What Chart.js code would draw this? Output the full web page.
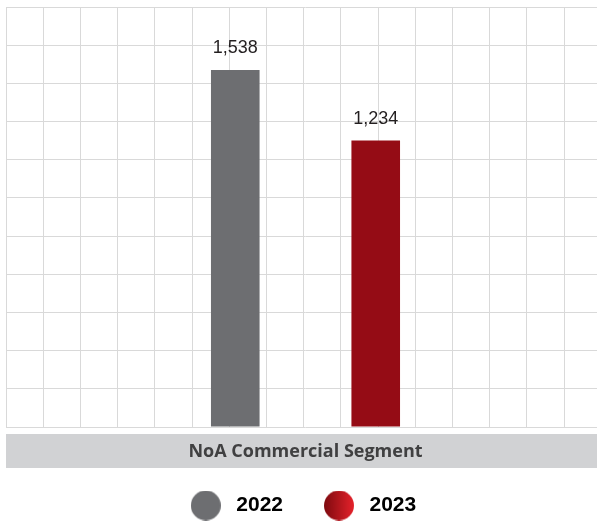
<!DOCTYPE html>
<html>
<head>
<meta charset="utf-8">
<script src="https://cdn.jsdelivr.net/npm/chart.js@4/dist/chart.umd.min.js"></script>
<style>
  html, body { margin: 0; padding: 0; background: #fff; overflow: hidden; }
  #wrap { position: relative; width: 605px; height: 526px; }
</style>
</head>
<body>
<div id="wrap"><canvas id="myChart"></canvas></div>
<script>
const categories = ['NoA Commercial Segment'];
const seriesLabels = ['2022', '2023'];
const values2022 = [1538];
const values2023 = [1234];
const seriesColors = ['#6d6e71', '#950c15'];

// pastilles de la légende (le rouge est en dégradé)
function makeDot(fill) {
    const c = document.createElement('canvas');
    c.width = 30;
    c.height = 30;
    const g = c.getContext('2d');
    if (fill === 'red') {
        const grad = g.createLinearGradient(0, 0, 30, 0);
        grad.addColorStop(0, '#7e0a0f');
        grad.addColorStop(1, '#e5222b');
        g.fillStyle = grad;
    } else {
        g.fillStyle = fill;
    }
    g.beginPath();
    g.arc(15, 15, 15, 0, Math.PI * 2);
    g.fill();
    return c;
}
const dots = [makeDot('#6d6e71'), makeDot('red')];

// bandeau gris + nom de la catégorie sous la zone du graphique
const bandPlugin = {
    id: 'band',
    beforeDraw(chart) {
        const { ctx, chartArea } = chart;
        const xScale = chart.scales.x;
        const top = chartArea.bottom + 7;
        ctx.save();
        ctx.fillStyle = '#d1d2d4';
        ctx.fillRect(chartArea.left, top, chart.width - chartArea.left, 34);
        ctx.font = 'bold 18px "Open Sans", Lato, sans-serif';
        ctx.fillStyle = '#404041';
        ctx.textAlign = 'center';
        ctx.textBaseline = 'middle';
        chart.data.labels.forEach((lab, i) => {
            ctx.fillText(lab, xScale.getPixelForTick(i), top + 18);
        });
        ctx.restore();
    }
};

// valeurs au-dessus des barres
const valuePlugin = {
    id: 'values',
    afterDatasetsDraw(chart) {
        const ctx = chart.ctx;
        ctx.save();
        ctx.font = '18px "Liberation Sans", Arial, sans-serif';
        ctx.fillStyle = '#231f20';
        ctx.textAlign = 'center';
        ctx.textBaseline = 'alphabetic';
        chart.data.datasets.forEach((ds, i) => {
            chart.getDatasetMeta(i).data.forEach((bar, j) => {
                const v = ds.data[j];
                if (v == null) return;
                ctx.fillText(v.toLocaleString('en-US'), bar.x, bar.y - 17);
            });
        });
        ctx.restore();
    }
};

const gridColor = '#d9d9d9';

const ctx = document.getElementById('myChart').getContext('2d');
const myChart = new Chart(ctx, {
    type: 'bar',
    data: {
        labels: categories,
        datasets: [
            { label: seriesLabels[0], data: values2022, backgroundColor: seriesColors[0] },
            { label: seriesLabels[1], data: values2023, backgroundColor: seriesColors[1] }
        ]
    },
    options: {
        responsive: true,
        maintainAspectRatio: false,
        animation: false,
        devicePixelRatio: 1,
        categoryPercentage: 0.469,
        barPercentage: 0.346,
        layout: { padding: { left: -3, top: 7, right: 0, bottom: 0 } },
        scales: {
            x: {
                type: 'category',
                offset: true,
                grid: { display: false, drawTicks: false },
                border: { display: false },
                ticks: { display: false },
                afterFit(scale) { scale.height = 32; }
            },
            gx: {
                type: 'linear',
                position: 'bottom',
                offset: false,
                min: 0,
                max: 16.1,
                ticks: { display: false, stepSize: 1 },
                grid: { color: gridColor, drawTicks: false, offset: false },
                border: { display: false }
            },
            y: {
                min: 0,
                max: 1809.5,
                ticks: { display: false, stepSize: 164.5, maxTicksLimit: 20 },
                grid: { color: gridColor, drawTicks: false },
                border: { display: false },
                afterFit(scale) { scale.width = 9; }
            }
        },
        plugins: {
            tooltip: { enabled: false },
            legend: {
                position: 'bottom',
                labels: {
                    usePointStyle: true,
                    pointStyleWidth: 40,
                    padding: 36,
                    color: '#000',
                    font: { family: '"Liberation Sans", Arial, sans-serif', size: 21, weight: 'bold' },
                    generateLabels(chart) {
                        const items = Chart.defaults.plugins.legend.labels.generateLabels(chart);
                        items.forEach((it, i) => { it.pointStyle = dots[i]; });
                        return items;
                    }
                }
            }
        }
    },
    plugins: [bandPlugin, valuePlugin]
});
</script>
</body>
</html>
